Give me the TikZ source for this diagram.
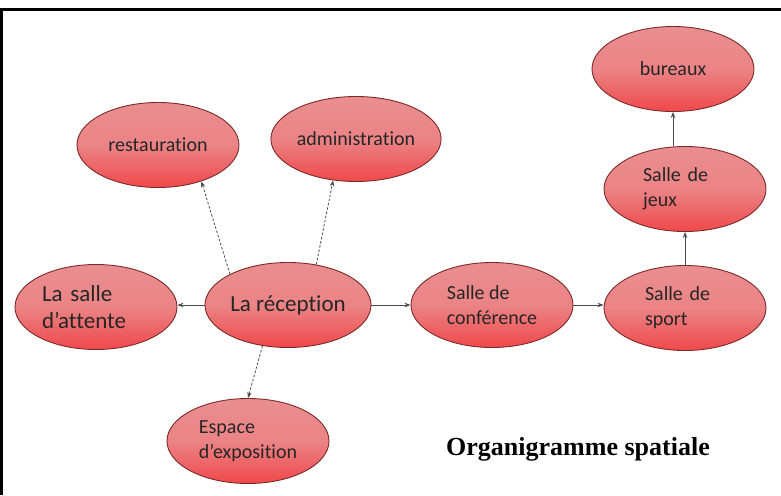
\documentclass[tikz,border=0pt]{standalone}
\usepackage{fontspec}
\setmainfont{Liberation Serif}
\newfontfamily\roomfont[Ligatures=NoCommon]{Carlito}
\usetikzlibrary{arrows.meta,shapes.geometric}
\definecolor{roomtop}{HTML}{EA8E90}
\definecolor{roombot}{HTML}{F0484A}
\definecolor{roomline}{HTML}{7A2A2A}
\definecolor{linkgray}{HTML}{4A4A4A}

\begin{document}
\begin{tikzpicture}[x=1pt, y=-1pt,
        r/.style={ellipse, draw=roomline, line width=0.9pt, top color=roomtop, bottom color=roombot,
          middle color=roomtop!85!roombot,
          minimum width=162pt, minimum height=85pt, inner sep=1pt, align=left, text=black!85,
          font=\roomfont\fontsize{20}{25}\selectfont},
        big/.style={font=\roomfont\fontsize{23}{27}\selectfont},
        arr/.style={-{Stealth[length=6pt, width=4.5pt]}, line width=0.8pt, linkgray},
        darr/.style={arr, dash pattern=on 2.5pt off 1.8pt}]
      \useasboundingbox (0,0) rectangle (781,495);
      \draw[line width=2.8pt] (1.3,495) -- (1.3,9.5) -- (781,9.5);
      \node[r] (resto) at (158,145) {restauration};
      \node[r] (admin) at (356,139) {administration};
      \node[r] (bur) at (673,69) {bureaux};
      \node[r, text width=84pt] (jeux) at (685,189) {Salle de\\jeux};
      \node[r, big, text width=108pt] (att) at (96,307) {La salle\\d’attente};
      \node[r, big] (recep) at (288,305) {La réception};
      \node[r] (expo) at (248,441) {Espace\\d’exposition};
      \node[r] (conf) at (492,305) {Salle de\\conférence};
      \node[r, text width=80pt] (sport) at (685,308) {Salle de\\sport};
      \node[font=\bfseries\fontsize{26}{30}\selectfont] (titre) at (578,449) {Organigramme spatiale};
      \draw[darr] (recep.152) -- (resto.320);
      \draw[darr] (recep.55) -- (admin.241);
      \draw[darr] (recep.238) -- (expo.90);
      \draw[arr] (recep.west) -- (recep.west -| att.east);
      \draw[arr] (recep.east) -- (conf.west);
      \draw[arr] (conf.east) -- (conf.east -| sport.west);
      \draw[arr] (sport.north) -- (jeux.south);
      \draw[arr] (bur.south |- jeux.north) -- (bur.south);
      \end{tikzpicture}
\end{document}
